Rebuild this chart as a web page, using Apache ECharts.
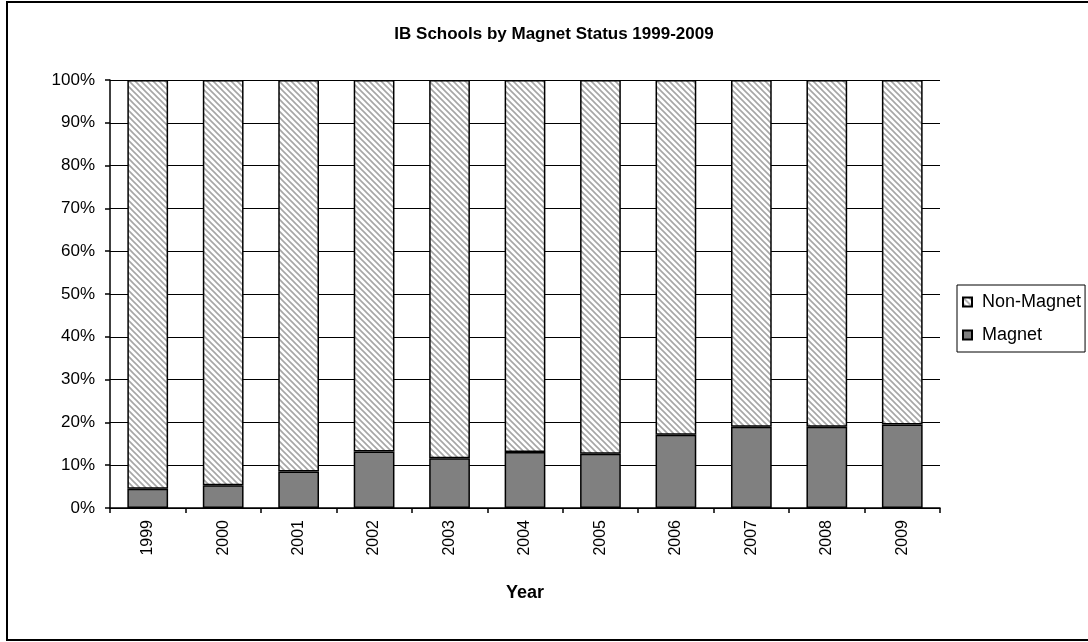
<!DOCTYPE html>
<html>
<head>
<meta charset="utf-8">
<script src="https://cdn.jsdelivr.net/npm/echarts@6/dist/echarts.min.js"></script>
<style>
  html, body { margin: 0; padding: 0; background: #fff; }
  #chart { width: 1088px; height: 642px; }
</style>
</head>
<body>
<div id="chart"></div>
<script>
// Share of IB schools that are magnet schools, by year (percent)
const years = ['1999', '2000', '2001', '2002', '2003', '2004', '2005', '2006', '2007', '2008', '2009'];
const magnet = [4.5, 5.3, 8.5, 13.2, 11.6, 13.1, 12.7, 17.1, 19.0, 19.0, 19.5];
const nonMagnet = [95.5, 94.7, 91.5, 86.8, 88.4, 86.9, 87.3, 82.9, 81.0, 81.0, 80.5];
const yTicks = [0, 10, 20, 30, 40, 50, 60, 70, 80, 90, 100];

// Diagonal hatch fill for the non-magnet segments
function hatch() {
  const s = 6;
  const c = document.createElement('canvas');
  c.width = s; c.height = s;
  const g = c.getContext('2d');
  g.fillStyle = '#ffffff';
  g.fillRect(0, 0, s, s);
  g.strokeStyle = '#a6a6a6';
  g.lineWidth = 1.6;
  g.beginPath();
  g.moveTo(-1, -1); g.lineTo(s + 1, s + 1);
  g.moveTo(-1, s - 1); g.lineTo(1, s + 1);
  g.moveTo(s - 1, -1); g.lineTo(s + 1, 1);
  g.stroke();
  return { image: c, repeat: 'repeat' };
}

const chart = echarts.init(document.getElementById('chart'), null, { renderer: 'canvas' });
const font = 'Liberation Sans, Arial, sans-serif';

chart.setOption({
  backgroundColor: '#ffffff',
  animation: false,
  textStyle: { fontFamily: font, color: '#000' },
  title: {
    text: 'IB Schools by Magnet Status 1999-2009',
    left: 549, top: 21, textAlign: 'center',
    textStyle: { fontFamily: font, fontSize: 17, fontWeight: 'bold', color: '#000' }
  },
  graphic: [{
    type: 'rect', silent: true,
    shape: { x: 7, y: 2, width: 1090, height: 638 },
    style: { fill: 'none', stroke: '#000', lineWidth: 2 }
  }],
  legend: {
    orient: 'vertical',
    left: 957, top: 285,
    data: ['Non-Magnet', 'Magnet'],
    icon: 'rect',
    itemWidth: 9, itemHeight: 9, itemGap: 15,
    borderColor: '#000', borderWidth: 1,
    padding: [8, 4, 8, 5],
    textStyle: { fontFamily: font, fontSize: 18, color: '#000', padding: [0, 0, 0, 5] }
  },
  grid: { left: 110, right: 148, top: 80, bottom: 134, containLabel: false },
  xAxis: {
    type: 'category',
    data: years,
    name: 'Year',
    nameLocation: 'middle',
    nameGap: 76,
    nameTextStyle: { fontFamily: font, fontSize: 18, fontWeight: 'bold', color: '#000' },
    axisLine: { lineStyle: { color: '#000', width: 1.5 } },
    axisTick: { show: true, length: 5, lineStyle: { color: '#000', width: 1.5 } },
    axisLabel: { rotate: 90, margin: 12, fontFamily: font, fontSize: 16, color: '#000' }
  },
  yAxis: {
    type: 'value',
    min: 0, max: 100, interval: 10,
    axisLine: { show: true, lineStyle: { color: '#000', width: 1.5 } },
    axisTick: { show: true, length: 5, lineStyle: { color: '#000', width: 1.5 } },
    splitLine: { show: true, lineStyle: { color: '#000', width: 1 } },
    axisLabel: {
      margin: 15, fontFamily: font, fontSize: 17, color: '#000',
      formatter: v => (yTicks.includes(v) ? v + '%' : '')
    }
  },
  series: [
    {
      name: 'Magnet', type: 'bar', stack: 'all',
      data: magnet,
      barCategoryGap: '46%',
      itemStyle: { color: '#808080', borderColor: '#000', borderWidth: 1.5 }
    },
    {
      name: 'Non-Magnet', type: 'bar', stack: 'all',
      data: nonMagnet,
      barCategoryGap: '46%',
      itemStyle: { color: hatch(), borderColor: '#000', borderWidth: 1.5 }
    }
  ]
});
</script>
</body>
</html>
